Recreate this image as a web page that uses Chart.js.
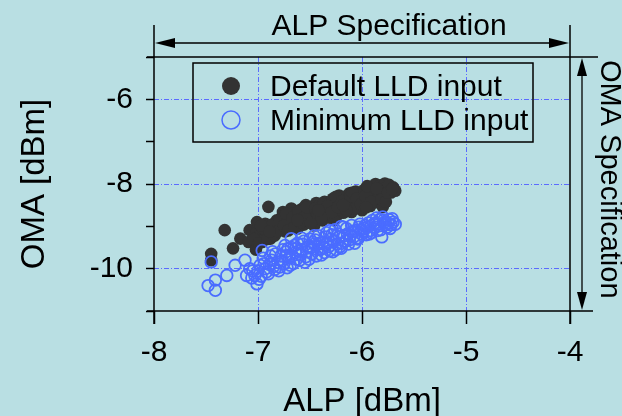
<!DOCTYPE html>
<html>
<head>
<meta charset="utf-8">
<script src="https://cdn.jsdelivr.net/npm/chart.js@4/dist/chart.umd.min.js"></script>
<style>
  html, body { margin: 0; padding: 0; background: #b9dfe3; }
  #wrap { width: 622px; height: 416px; position: relative; }
</style>
</head>
<body>
<div id="wrap"><canvas id="c" width="622" height="416"></canvas></div>
<script>
// ---- data ----
const X_MIN = -8, X_MAX = -4, Y_MIN = -11, Y_MAX = -5;
const xTickValues = [-8, -7, -6, -5, -4];
const yTickValues = [-11, -10, -9, -8, -7, -6, -5];
const yLabelValues = [-10, -8, -6];
const xGridValues = [-7, -6, -5];
const yGridValues = [-10, -8, -6];
const seriesNames = ['Default LLD input', 'Minimum LLD input'];
const xTitle = 'ALP [dBm]';
const yTitle = 'OMA [dBm]';
const alpSpecText = 'ALP Specification';
const omaSpecText = 'OMA Specification';

const defaultLLD = [
  [-7.45,-9.65],[-7.45,-9.80],[-7.32,-9.09],[-7.24,-9.52],[-7.17,-9.29],[-7.09,-9.37],[-7.08,-9.09],[-7.02,-9.55],
  [-7.01,-9.13],[-7.01,-8.90],[-6.96,-9.37],[-6.93,-8.94],[-6.90,-8.54],[-6.88,-9.29],[-6.87,-9.05],[-6.82,-8.86],
  [-6.76,-8.66],[-6.68,-8.58],
  [-6.85,-9.18],[-6.80,-9.10],[-6.78,-8.95],[-6.74,-9.12],[-6.72,-8.80],[-6.70,-9.02],[-6.66,-8.70],[-6.64,-8.92],
  [-6.62,-9.05],[-6.60,-8.62],[-6.58,-8.82],[-6.56,-8.96],[-6.54,-8.50],[-6.52,-8.72],[-6.50,-8.88],[-6.48,-8.60],
  [-6.46,-8.98],[-6.44,-8.45],[-6.42,-8.78],[-6.40,-8.62],[-6.38,-8.86],[-6.36,-8.42],[-6.34,-8.70],[-6.32,-8.55],
  [-6.30,-8.80],[-6.28,-8.35],[-6.26,-8.62],[-6.24,-8.74],[-6.22,-8.27],[-6.20,-8.50],[-6.18,-8.68],[-6.16,-8.38],
  [-6.14,-8.58],[-6.12,-8.22],[-6.10,-8.66],[-6.08,-8.45],[-6.06,-8.18],[-6.04,-8.55],[-6.02,-8.32],[-6.00,-8.62],
  [-5.98,-8.14],[-5.96,-8.42],[-5.94,-8.25],[-5.92,-8.52],[-5.90,-8.06],[-5.88,-8.35],[-5.87,-8.00],[-5.85,-8.18],
  [-5.83,-8.45],[-5.82,-8.03],[-5.80,-8.54],[-5.79,-8.28],[-5.78,-7.99],[-5.76,-8.12],[-5.74,-8.02],[-5.72,-8.20],
  [-5.70,-8.08],[-5.68,-8.16],
  [-6.98,-9.22],[-6.92,-9.15],[-6.83,-9.00],[-6.77,-8.78],[-6.69,-8.88],[-6.63,-8.75],[-6.57,-8.58],[-6.51,-8.80],
  [-6.47,-8.70],[-6.41,-8.52],[-6.35,-8.60],[-6.31,-8.45],[-6.27,-8.85],[-6.21,-8.40],[-6.17,-8.30],[-6.13,-8.48],
  [-6.07,-8.58],[-6.03,-8.25],[-5.99,-8.48],[-5.93,-8.36],[-5.89,-8.20],[-5.84,-8.30],
  [-7.04,-9.30],[-6.99,-9.40],[-6.95,-9.05],[-6.91,-9.30],[-6.86,-8.95],[-6.84,-9.22],[-6.81,-9.12],[-6.79,-8.85],
  [-6.75,-8.98],[-6.73,-8.70],[-6.71,-9.10],[-6.67,-8.80],[-6.65,-9.02],[-6.61,-8.65],[-6.59,-8.90],[-6.55,-8.78],
  [-6.53,-8.55],[-6.49,-8.92],[-6.45,-8.58],[-6.43,-8.70],[-6.39,-8.80],[-6.37,-8.48],[-6.33,-8.52],[-6.29,-8.66],
  [-6.25,-8.30],[-6.23,-8.55],[-6.19,-8.40],[-6.15,-8.62],[-6.11,-8.30],[-6.09,-8.20],[-6.05,-8.35],[-6.01,-8.48],
  [-5.97,-8.28],[-5.95,-8.05],[-5.91,-8.42],[-5.86,-8.10],[-5.81,-8.36],[-5.77,-8.42],[-5.75,-8.20],[-5.71,-8.12],
  [-6.97,-8.98],[-6.89,-9.12],[-6.62,-8.85],[-6.42,-8.62],[-6.18,-8.50],[-5.96,-8.55]
];
const minimumLLD = [
  [-7.45,-9.84],[-7.48,-10.40],[-7.41,-10.51],[-7.41,-10.27],[-7.30,-10.16],[-7.22,-9.92],[-7.125,-9.80],[-7.11,-10.16],
  [-7.08,-10.00],[-7.03,-10.16],[-7.01,-10.36],[-6.98,-9.92],[-6.96,-9.57],[-6.92,-10.08],[-6.87,-9.80],[-6.79,-9.96],
  [-6.74,-9.45],[-6.725,-9.69],[-6.68,-9.29],
  [-7.06,-10.22],[-7.00,-10.05],[-6.94,-9.88],[-6.90,-10.12],[-6.85,-9.95],[-6.83,-9.65],[-6.80,-10.05],[-6.77,-9.82],
  [-6.76,-9.55],[-6.72,-9.98],[-6.70,-9.75],[-6.68,-9.50],[-6.66,-9.88],[-6.64,-9.62],[-6.62,-9.40],[-6.60,-9.80],
  [-6.58,-9.55],[-6.56,-9.35],[-6.54,-9.72],[-6.52,-9.48],[-6.50,-9.30],[-6.48,-9.65],[-6.46,-9.42],[-6.44,-9.70],
  [-6.42,-9.22],[-6.40,-9.55],[-6.38,-9.38],[-6.36,-9.62],[-6.34,-9.15],[-6.32,-9.48],[-6.30,-9.30],[-6.28,-9.60],
  [-6.26,-9.08],[-6.24,-9.42],[-6.22,-9.25],[-6.20,-9.52],[-6.18,-9.02],[-6.16,-9.35],[-6.14,-9.18],[-6.12,-9.32],
  [-6.10,-8.98],[-6.08,-9.25],[-6.06,-9.10],[-6.04,-9.30],[-6.02,-8.95],[-6.00,-9.18],[-5.98,-9.05],[-5.96,-9.20],
  [-5.94,-8.92],[-5.92,-9.10],[-5.90,-8.86],[-5.88,-9.02],[-5.86,-8.80],[-5.84,-8.95],[-5.82,-9.08],[-5.81,-9.25],
  [-5.80,-8.78],[-5.78,-8.90],[-5.76,-9.02],[-5.74,-8.84],[-5.72,-8.96],[-5.70,-8.90],[-5.68,-8.95],
  [-6.97,-10.18],[-6.88,-9.70],[-6.81,-9.85],[-6.73,-9.60],[-6.67,-9.70],[-6.61,-9.58],[-6.55,-9.85],[-6.49,-9.50],
  [-6.45,-9.32],[-6.39,-9.68],[-6.33,-9.40],[-6.29,-9.20],[-6.25,-9.55],[-6.19,-9.40],[-6.15,-9.05],[-6.11,-9.22],
  [-6.07,-9.40],[-6.01,-9.08],[-5.97,-8.98],[-5.91,-9.15],[-5.87,-8.92],[-5.83,-8.84],[-5.77,-8.96],
  [-7.05,-10.05],[-6.99,-10.25],[-6.95,-9.75],[-6.93,-10.00],[-6.89,-9.90],[-6.86,-9.60],[-6.84,-10.02],[-6.78,-9.70],
  [-6.75,-9.88],[-6.71,-9.52],[-6.69,-9.92],[-6.65,-9.45],[-6.63,-9.78],[-6.59,-9.68],[-6.57,-9.42],[-6.53,-9.60],
  [-6.51,-9.78],[-6.47,-9.38],[-6.43,-9.55],[-6.41,-9.40],[-6.37,-9.50],[-6.35,-9.25],[-6.31,-9.58],[-6.27,-9.35],
  [-6.23,-9.18],[-6.21,-9.48],[-6.17,-9.22],[-6.13,-9.42],[-6.09,-9.12],[-6.05,-9.28],[-6.03,-9.02],[-5.99,-9.12],
  [-5.95,-9.02],[-5.93,-9.18],[-5.89,-8.95],[-5.85,-9.10],[-5.79,-8.85],[-5.75,-8.92],[-5.73,-9.05],[-5.71,-8.82],
  [-6.58,-9.28],[-6.46,-9.22],[-6.31,-9.10],[-6.20,-9.00]
];

// ---- styles ----
const BG = '#b9dfe3';
const DARK = '#333333';
const BLUE = '#4a6cff';
const GRID = '#5b6bff';
const FONT = '"Liberation Sans", Arial, Helvetica, sans-serif';

const toPts = arr => arr.map(([x, y]) => ({x, y}));

const bgPlugin = {
  id: 'bg',
  beforeDraw(chart) {
    const {ctx, width, height} = chart;
    ctx.save();
    ctx.fillStyle = BG;
    ctx.fillRect(0, 0, width, height);
    ctx.restore();
  }
};

function line(ctx, x1, y1, x2, y2) {
  ctx.beginPath(); ctx.moveTo(x1, y1); ctx.lineTo(x2, y2); ctx.stroke();
}
function head(ctx, tipX, tipY, dx, dy, len, hw) {
  const bx = tipX - dx * len, by = tipY - dy * len;
  ctx.beginPath();
  ctx.moveTo(tipX, tipY);
  ctx.lineTo(bx - dy * hw, by + dx * hw);
  ctx.lineTo(bx + dy * hw, by - dx * hw);
  ctx.closePath();
  ctx.fill();
}

const specPlugin = {
  id: 'spec',
  afterDraw(chart) {
    const {ctx} = chart;
    const xs = chart.scales.x, ys = chart.scales.y;
    const L = xs.getPixelForValue(X_MIN), R = xs.getPixelForValue(X_MAX);
    const T = ys.getPixelForValue(Y_MAX), B = ys.getPixelForValue(Y_MIN);
    ctx.save();
    ctx.strokeStyle = '#000';
    ctx.fillStyle = '#000';
    ctx.lineWidth = 1.5;
    // frame lines
    line(ctx, L - 7, T, R + 28, T);
    line(ctx, L - 7, B, R + 23, B);
    line(ctx, L, T - 32, L, B + 13);
    line(ctx, R, T - 32, R, B + 13);
    // ALP specification arrow
    const ay = T - 14;
    ctx.lineWidth = 1.3;
    line(ctx, L + 10, ay, R - 10, ay);
    head(ctx, L + 1, ay, -1, 0, 20, 5);
    head(ctx, R - 1, ay, 1, 0, 20, 5);
    // OMA specification arrow
    const ax = R + 12;
    line(ctx, ax, T + 10, ax, B - 10);
    head(ctx, ax, T + 1, 0, -1, 18, 5);
    head(ctx, ax, B - 1, 0, 1, 18, 5);
    // texts
    ctx.font = '30px ' + FONT;
    ctx.textAlign = 'center';
    ctx.textBaseline = 'alphabetic';
    ctx.fillText(alpSpecText, (L + R) / 2 + 27, T - 22);
    ctx.save();
    ctx.translate(R + 31, T + 3);
    ctx.rotate(Math.PI / 2);
    ctx.font = '29px ' + FONT;
    ctx.textAlign = 'left';
    ctx.fillText(omaSpecText, 0, 0);
    ctx.restore();
    // legend
    const lx = L + 39, ly = T + 6, lw = 340, lh = 79;
    ctx.lineWidth = 1.5;
    ctx.strokeStyle = '#000';
    ctx.strokeRect(lx, ly, lw, lh);
    const ds = chart.data.datasets;
    const rows = [ly + 23, ly + 57];
    ds.forEach((d, i) => {
      ctx.beginPath();
      ctx.arc(lx + 38, rows[i], 9, 0, Math.PI * 2);
      if (i === 0) { ctx.fillStyle = d.backgroundColor; ctx.fill(); }
      else { ctx.strokeStyle = d.borderColor; ctx.lineWidth = 1.5; ctx.stroke(); }
      ctx.fillStyle = '#000';
      ctx.font = '30px ' + FONT;
      ctx.textAlign = 'left';
      ctx.textBaseline = 'alphabetic';
      ctx.fillText(d.label, lx + 77, rows[i] + 10);
    });
    ctx.restore();
  }
};

new Chart(document.getElementById('c'), {
  type: 'scatter',
  data: {
    datasets: [
      { label: seriesNames[0], data: toPts(defaultLLD), backgroundColor: DARK, borderColor: DARK, order: 1,
        pointRadius: 6.3, pointBorderWidth: 0, pointHoverRadius: 6.3 },
      { label: seriesNames[1], data: toPts(minimumLLD), backgroundColor: 'rgba(0,0,0,0)', borderColor: BLUE, order: 0,
        pointRadius: 5.8, pointBorderWidth: 1.8, pointHoverRadius: 5.8 }
    ]
  },
  options: {
    responsive: false,
    animation: false,
    events: [],
    layout: { padding: { top: 57, right: 52, left: 0, bottom: 0 } },
    plugins: { legend: { display: false }, tooltip: { enabled: false } },
    scales: {
      x: {
        type: 'linear', min: X_MIN, max: X_MAX,
        afterFit: s => { s.height = 105; },
        afterBuildTicks: s => { s.ticks = xTickValues.map(v => ({value: v})); },
        ticks: { font: { family: FONT, size: 30 }, color: '#000', padding: 11, maxRotation: 0, autoSkip: false,
                 callback: v => String(v) },
        grid: { color: c => (c.tick && xGridValues.includes(c.tick.value)) ? GRID : 'rgba(0,0,0,0)',
                lineWidth: 1, tickColor: '#000', tickLength: 13, tickWidth: 1.5, drawTicks: true },
        border: { display: false, dash: [5, 2, 1, 2] },
        title: { display: true, text: xTitle, color: '#000', font: { family: FONT, size: 33, lineHeight: 1 },
                 padding: { top: 0, bottom: -2 } }
      },
      y: {
        type: 'linear', min: Y_MIN, max: Y_MAX,
        afterFit: s => { s.width = 154; },
        afterBuildTicks: s => { s.ticks = yTickValues.map(v => ({value: v})); },
        ticks: { font: { family: FONT, size: 30 }, color: '#000', padding: 13, autoSkip: false,
                 callback: v => yLabelValues.includes(v) ? String(v) : '' },
        grid: { color: c => (c.tick && yGridValues.includes(c.tick.value)) ? GRID : 'rgba(0,0,0,0)',
                lineWidth: 1, tickColor: '#000', tickLength: 8, tickWidth: 1.5, drawTicks: true },
        border: { display: false, dash: [5, 2, 1, 2] },
        title: { display: true, text: yTitle, color: '#000', font: { family: FONT, size: 33, lineHeight: 1 },
                 padding: { top: 18, bottom: 0 } }
      }
    }
  },
  plugins: [bgPlugin, specPlugin]
});
</script>
</body>
</html>
